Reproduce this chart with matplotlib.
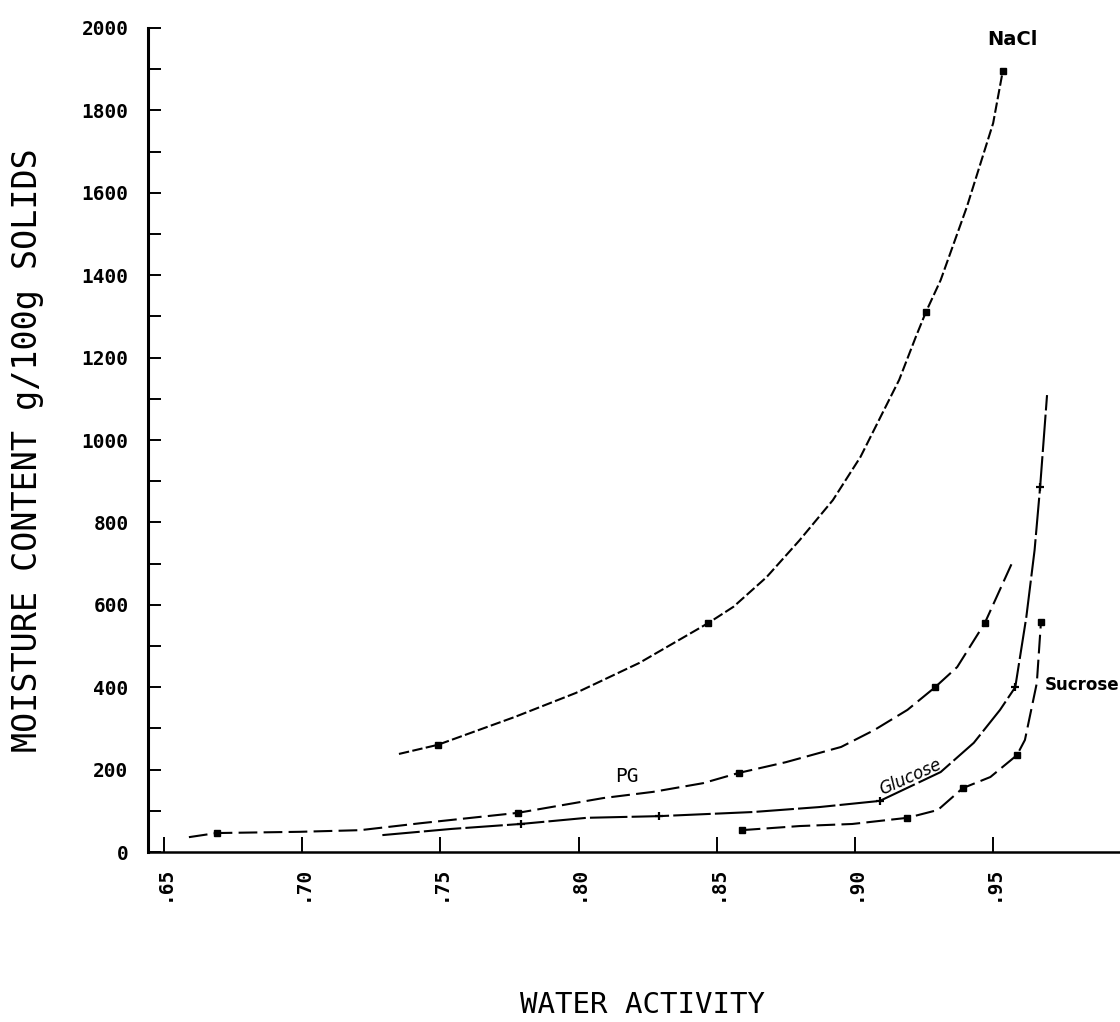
import matplotlib
matplotlib.use("Agg")
import matplotlib.pyplot as plt
from matplotlib.ticker import MultipleLocator, FixedLocator

# ---- data (water activity vs moisture content) ----
nacl_x = [0.735, 0.749, 0.777, 0.799, 0.822, 0.847, 0.856, 0.868, 0.880, 0.892, 0.902,
          0.910, 0.916, 0.922, 0.9257, 0.931, 0.9405, 0.950, 0.9535]
nacl_y = [238, 260, 328, 386, 459, 556, 595, 667, 757, 854, 959,
          1066, 1146, 1250, 1311, 1388, 1566, 1769, 1896]
nacl_mx = [0.749, 0.847, 0.9257, 0.9535]
nacl_my = [260, 556, 1311, 1896]

pg_x = [0.659, 0.669, 0.699, 0.721, 0.743, 0.778, 0.809, 0.827, 0.845, 0.858, 0.875,
        0.895, 0.907, 0.919, 0.929, 0.937, 0.947, 0.957]
pg_y = [36, 46, 49, 53, 70, 95, 131, 146, 167, 192, 218, 255, 296, 345, 400, 449, 556, 704]
pg_mx = [0.669, 0.778, 0.858, 0.929, 0.947]
pg_my = [46, 95, 192, 400, 556]

glu_x = [0.729, 0.754, 0.779, 0.803, 0.829, 0.863, 0.887, 0.909, 0.931, 0.943, 0.9525,
         0.958, 0.962, 0.965, 0.967, 0.9695]
glu_y = [41, 56, 68, 83, 87, 97, 109, 124, 194, 265, 345, 400, 570, 733, 886, 1109]
glu_mx = [0.779, 0.829, 0.909, 0.958, 0.967]
glu_my = [68, 87, 124, 400, 886]

suc_x = [0.859, 0.880, 0.899, 0.919, 0.930, 0.939, 0.949, 0.9586, 0.9615, 0.9658, 0.9669, 0.9673]
suc_y = [53, 63, 68, 83, 102, 155, 182, 235, 272, 410, 519, 558]
suc_mx = [0.859, 0.919, 0.939, 0.9586, 0.9673]
suc_my = [53, 83, 155, 235, 558]

x_ticks = [0.65, 0.70, 0.75, 0.80, 0.85, 0.90, 0.95]
x_tick_labels = [".65", ".70", ".75", ".80", ".85", ".90", ".95"]
y_ticks = [0, 200, 400, 600, 800, 1000, 1200, 1400, 1600, 1800, 2000]

W, H = 1120, 1022
fig = plt.figure(figsize=(W / 100, H / 100), dpi=100)
fig.patch.set_facecolor("white")

left_px, right_px, top_px, bottom_px = 148, 1120, 28, 852
ax = fig.add_axes([left_px / W, 1 - bottom_px / H, (right_px - left_px) / W, (bottom_px - top_px) / H])
ax.set_xlim(0.6442, 0.9959)
ax.set_ylim(0, 2000)

mono = ["DejaVu Sans Mono"]

lw = 1.5
ax.plot(nacl_x, nacl_y, color="black", lw=lw, dashes=(5, 1.6))
ax.plot(pg_x, pg_y, color="black", lw=lw, dashes=(9, 3))
ax.plot(glu_x, glu_y, color="black", lw=lw, dashes=(18, 2))
ax.plot(suc_x, suc_y, color="black", lw=lw, dashes=(9, 3))

ax.plot(nacl_mx, nacl_my, ls="none", marker="s", ms=4.5, color="black")
ax.plot(pg_mx, pg_my, ls="none", marker="s", ms=4.5, color="black")
ax.plot(glu_mx, glu_my, ls="none", marker="+", ms=6, mew=1.6, color="black")
ax.plot(suc_mx, suc_my, ls="none", marker="s", ms=4.5, color="black")

# spines
for s in ["top", "right"]:
    ax.spines[s].set_visible(False)
ax.spines["left"].set_linewidth(2.2)
ax.spines["bottom"].set_linewidth(1.8)

ax.xaxis.set_major_locator(FixedLocator(x_ticks))
ax.set_xticklabels(x_tick_labels, rotation=90, fontfamily=mono, fontweight="bold", fontsize=14)
ax.yaxis.set_major_locator(FixedLocator(y_ticks))
ax.yaxis.set_minor_locator(MultipleLocator(100))
ax.set_yticklabels([str(v) for v in y_ticks], fontfamily=mono, fontweight="bold", fontsize=14)
ax.tick_params(axis="y", which="both", direction="in", length=9, width=1.4, pad=14)
ax.tick_params(axis="x", which="major", direction="in", length=11, width=1.4, pad=10)

# curve labels
ax.text(0.9568, 1971, "NaCl", fontsize=14, fontweight="bold",
        family=["Liberation Sans Narrow", "DejaVu Sans"], ha="center", va="center")
ax.text(0.8175, 184, "PG", fontsize=14, family=mono, ha="center", va="center")
ax.text(0.9199, 182, "Glucose", fontsize=12, style="italic", rotation=24,
        family=["Liberation Sans Narrow", "DejaVu Sans"], ha="center", va="center")
ax.text(0.9687, 405, "Sucrose", fontsize=12, fontweight="bold",
        family=["Liberation Sans Narrow", "DejaVu Sans"], ha="left", va="center")

# axis titles
fig.text(28 / W, 1 - 450 / H, "MOISTURE CONTENT g/100g SOLIDS", rotation=90,
         fontfamily=mono, fontsize=24, ha="center", va="center")
fig.text(642 / W, 1 - 1005 / H, "WATER ACTIVITY", fontfamily=mono, fontsize=21,
         ha="center", va="center")

fig.savefig("out.png", dpi=100, facecolor="white")
